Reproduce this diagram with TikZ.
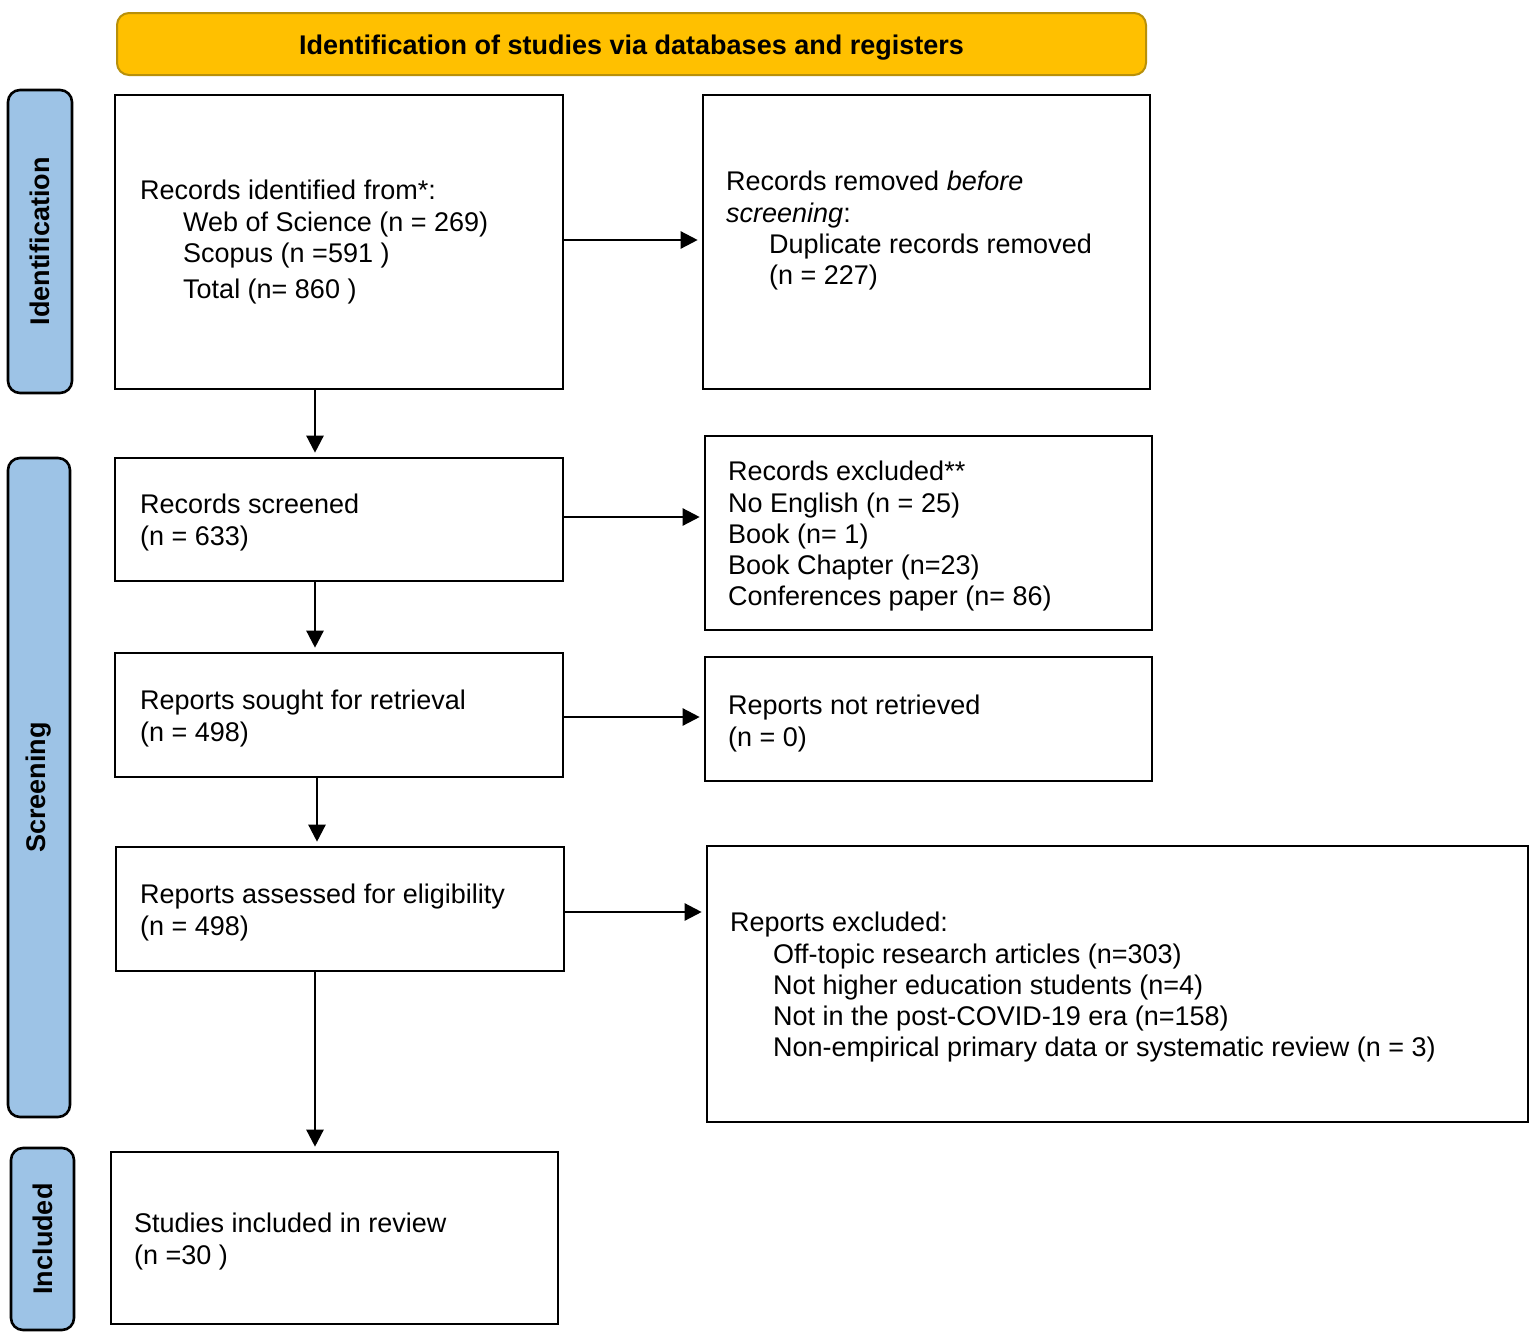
\documentclass[tikz,border=0pt]{standalone}
\usepackage{fontspec}
\setmainfont{Liberation Sans}
\usetikzlibrary{arrows.meta,calc}
\definecolor{titlefill}{HTML}{FFC000}
\definecolor{titledraw}{HTML}{B8900A}
\definecolor{sidefill}{HTML}{9DC3E6}
\tikzset{
  box/.style={draw=black, line width=2.6pt, fill=white, inner sep=0pt},
  side/.style={draw=black, line width=2.6pt, fill=sidefill, rounded corners=12pt, inner sep=0pt},
  sidelabel/.style={rotate=90, font=\fontsize{27}{31}\selectfont\bfseries},
  txt/.style={anchor=north west, align=left, inner sep=0pt, font=\fontsize{27}{31.3}\selectfont},
  arr/.style={line width=2.4pt, -{Triangle[length=17pt,width=17pt]}, shorten >=4pt}
}
\newcommand{\ind}{\hspace*{43pt}}
\begin{document}
\begin{tikzpicture}[x=1pt,y=-1pt]
\useasboundingbox (0,0) rectangle (1535,1336);
\fill[white] (0,0) rectangle (1535,1336);
% title
\node[draw=titledraw, line width=2pt, fill=titlefill, rounded corners=12pt, minimum width=1029pt, minimum height=62pt, text height=21pt, text depth=0pt, font=\fontsize{27}{31}\selectfont\bfseries] (title) at (631.5,44) {Identification of studies via databases and registers};
% side labels
\node[side, minimum width=64pt, minimum height=303pt] (sid) at (40,241.5) {};
\node[sidelabel] (sidl) at (sid.center) {Identification};
\node[side, minimum width=62pt, minimum height=659pt] (sscr) at (39,787.5) {};
\node[sidelabel] (sscrl) at (sscr.center) {Screening};
\node[side, minimum width=63pt, minimum height=182pt] (sinc) at (42.5,1239) {};
\node[sidelabel] (sincl) at (sinc.center) {Included};
% boxes
\node[box, minimum width=448pt, minimum height=294pt] (b1) at (339,242) {};
\node[box, minimum width=447pt, minimum height=294pt] (b2) at (926.5,242) {};
\node[box, minimum width=448pt, minimum height=123pt] (b3) at (339,519.5) {};
\node[box, minimum width=447pt, minimum height=194pt] (b4) at (928.5,533) {};
\node[box, minimum width=448pt, minimum height=124pt] (b5) at (339,715) {};
\node[box, minimum width=447pt, minimum height=124pt] (b6) at (928.5,719) {};
\node[box, minimum width=448pt, minimum height=124pt] (b7) at (340,909) {};
\node[box, minimum width=821pt, minimum height=276pt] (b8) at (1117.5,984) {};
\node[box, minimum width=447pt, minimum height=172pt] (b9) at (334.5,1238) {};
% texts
\node[txt] (t1) at (140,180) {Records identified from*:\\ \ind Web of Science (n = 269)\\ \ind Scopus (n =591 )\\[5pt] \ind Total (n= 860 )};
\node[txt] (t2) at (726,171) {Records removed \textit{before}\\ \textit{screening}:\\ \ind Duplicate records removed\\ \ind (n = 227)};
\node[txt] (t3) at (140,494) {Records screened\\ (n = 633)};
\node[txt] (t4) at (728,461) {Records excluded**\\ No English (n = 25)\\ Book (n= 1)\\ Book Chapter (n=23)\\ Conferences paper (n= 86)};
\node[txt] (t5) at (140,690) {Reports sought for retrieval\\ (n = 498)};
\node[txt] (t6) at (728,695) {Reports not retrieved\\ (n = 0)};
\node[txt] (t7) at (140,884) {Reports assessed for eligibility\\ (n = 498)};
\node[txt] (t8) at (730,912) {Reports excluded:\\ \ind Off-topic research articles (n=303)\\ \ind Not higher education students (n=4)\\ \ind Not in the post-COVID-19 era (n=158)\\ \ind Non-empirical primary data or systematic review (n = 3)};
\node[txt] (t9) at (134,1213) {Studies included in review\\ (n =30 )};
% arrows
\draw[arr] ([yshift=2pt]b1.east) -- ([yshift=2pt]b1.east -| b2.west);
\draw[arr] ([yshift=2.5pt]b3.east) -- ([yshift=2.5pt]b3.east -| b4.west);
\draw[arr] ([yshift=-2pt]b5.east) -- ([yshift=-2pt]b5.east -| b6.west);
\draw[arr] ([yshift=-3pt]b7.east) -- ([yshift=-3pt]b7.east -| b8.west);
\draw[arr] ([xshift=-24pt]b1.south) -- ([xshift=-24pt]b1.south |- b3.north);
\draw[arr] ([xshift=-24pt]b3.south) -- ([xshift=-24pt]b3.south |- b5.north);
\draw[arr] ([xshift=-22pt]b5.south) -- ([xshift=-22pt]b5.south |- b7.north);
\draw[arr] ([xshift=-25pt]b7.south) -- ([xshift=-25pt]b7.south |- b9.north);
\end{tikzpicture}
\end{document}
